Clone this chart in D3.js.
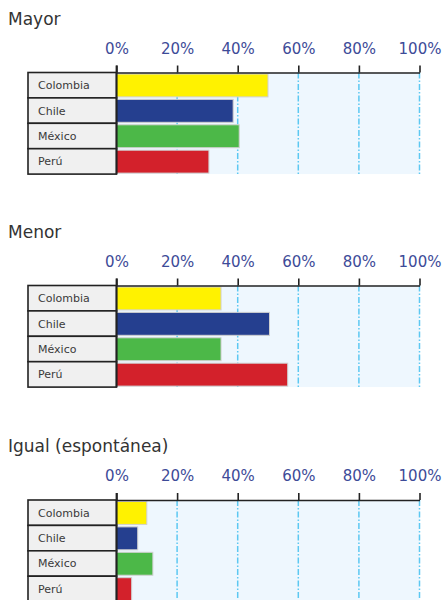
<!DOCTYPE html>
<html><head><meta charset="utf-8">
<script src="https://cdn.jsdelivr.net/npm/d3@7"></script>
<style>html,body{margin:0;padding:0;background:#fff;}</style>
</head><body>
<svg id="chart" width="446" height="600"></svg>
<script>
const categories = ["Colombia", "Chile", "México", "Perú"];
const mayor = [50, 38.5, 40.5, 30.5];
const menor = [34.5, 50.5, 34.5, 56.5];
const igual = [10, 7, 12, 5];
const panelTitles = ["Mayor", "Menor", "Igual (espontánea)"];
const tickValues = [0, 20, 40, 60, 80, 100];
const barColors = ["#fff200", "#253f8f", "#4cb848", "#d3212b"];

const panels = [mayor, menor, igual];
const axisY = [72.5, 285.5, 500];
const svg = d3.select("#chart");
const x = d3.scaleLinear().domain([0, 100]).range([116.5, 419.5]);
const labelLeft = 28;
const rowH = 25.4;

panels.forEach((vals, i) => {
  const g = svg.append("g").attr("transform", `translate(0,${axisY[i]})`);
  const y = d3.scaleBand().domain(categories).range([0, rowH * categories.length]);
  const bottom = y.range()[1];

  // title
  g.append("text").attr("x", 8).attr("y", -48)
    .attr("font-family", "DejaVu Sans, Verdana, sans-serif")
    .attr("font-size", 17).attr("fill", "#333").text(panelTitles[i]);

  // plot background
  g.append("rect").attr("x", x(0)).attr("y", 0)
    .attr("width", x(100) - x(0)).attr("height", bottom)
    .attr("fill", "#eef7fe");

  // grid lines
  g.selectAll(".grid").data(tickValues.filter(d => d > 0)).join("line")
    .attr("x1", d => x(d)).attr("x2", d => x(d))
    .attr("y1", 0).attr("y2", bottom)
    .attr("stroke", "#5cc8f2").attr("stroke-width", 1.5)
    .attr("stroke-dasharray", "6,2,1.5,2");

  // bars
  g.selectAll(".bar").data(vals).join("rect")
    .attr("x", x(0)).attr("y", (d, j) => y(categories[j]) + 1.5)
    .attr("width", d => x(d) - x(0)).attr("height", y.bandwidth() - 2.5)
    .attr("fill", (d, j) => barColors[j])
    .attr("stroke", "#d0d0d0").attr("stroke-width", 1);

  // label boxes
  g.selectAll(".lab").data(categories).join("rect")
    .attr("x", labelLeft).attr("y", d => y(d))
    .attr("width", x(0) - labelLeft).attr("height", y.bandwidth())
    .attr("fill", "#f0f0f0").attr("stroke", "#222").attr("stroke-width", 1.6);
  g.selectAll(".labt").data(categories).join("text")
    .attr("x", labelLeft + 10).attr("y", d => y(d) + y.bandwidth() / 2)
    .attr("dy", "0.36em")
    .attr("font-family", "DejaVu Sans, Verdana, sans-serif")
    .attr("font-size", 11).attr("fill", "#3a3a3a").text(d => d);

  // axis
  const ax = d3.axisTop(x).tickValues(tickValues)
    .tickFormat(d => d + "%").tickSize(7).tickSizeOuter(0).tickPadding(12);
  const axg = g.append("g").call(ax);
  axg.select(".domain").attr("stroke", "#222").attr("stroke-width", 1.6);
  axg.selectAll(".tick line").attr("stroke", "#222").attr("stroke-width", 1.6);
  axg.selectAll(".tick text")
    .attr("font-family", "DejaVu Sans, Verdana, sans-serif")
    .attr("font-size", 15).attr("fill", "#3d4b98");

  // vertical axis line at 0
  g.append("line").attr("x1", x(0)).attr("x2", x(0))
    .attr("y1", -7).attr("y2", bottom)
    .attr("stroke", "#222").attr("stroke-width", 1.8);
});
</script>
</body></html>
